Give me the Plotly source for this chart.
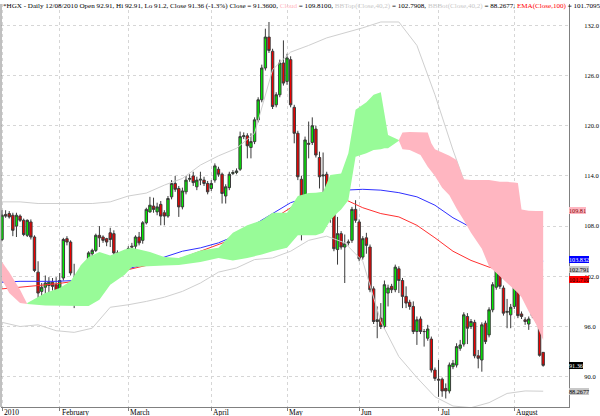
import plotly.graph_objects as go

# ---------------- data ----------------
open_ = [106.4,109.4,109.5,109.3,108.0,109.2,108.7,106.9,108.5,106.7,
 102.5,100.2,100.7,100.9,101.3,101.0,100.2,101.8,106.5,106.1,
 101.6,101.0,102.1,102.9,102.8,104.7,105.1,106.9,106.7,106.5,
 107.2,107.1,104.8,104.5,104.4,104.2,105.6,105.6,106.7,106.3,
 108.4,109.7,110.4,109.7,110.6,109.6,109.2,111.5,113.1,112.5,
 110.3,112.1,113.6,114.0,112.7,113.5,113.5,113.1,112.5,113.5,
 114.8,114.2,111.6,112.6,114.3,114.4,114.8,118.7,118.8,117.4,
 118.1,120.7,123.1,126.9,130.6,128.9,122.5,123.7,127.5,125.3,
 127.9,122.2,119.1,113.6,109.5,117.9,118.0,119.6,116.2,114.0,
 114.2,112.0,110.5,105.2,107.1,105.5,106.0,106.3,110.0,108.5,
 104.3,106.6,105.5,100.5,96.6,97.0,96.0,100.0,100.8,100.4,
 102.9,101.5,99.6,98.9,98.4,95.4,96.9,95.4,94.6,94.5,
 90.8,89.7,89.7,88.6,88.3,91.2,91.4,93.4,93.9,97.2,
 96.0,96.5,92.5,92.0,96.4,95.0,98.0,100.7,103.4,100.6,
 97.7,97.4,98.4,101.0,97.5,96.8,96.3,97.3,99.0,96.5,
 92.91]
high = [109.9,109.9,109.8,109.6,109.6,109.4,108.9,108.8,108.8,106.9,
 103.8,101.2,102.1,101.9,101.8,101.9,102.4,106.6,106.8,106.3,
 103.5,102.4,103.3,103.5,105.0,105.3,107.1,108.0,106.9,106.6,
 107.8,107.5,105.1,104.8,105.1,105.6,106.0,106.9,107.3,108.6,
 110.2,111.5,111.4,110.8,111.0,109.9,111.6,113.5,114.0,112.8,
 112.6,114.0,114.2,114.5,113.9,114.5,113.9,113.4,113.5,115.5,
 115.1,114.4,113.0,114.5,114.7,114.9,119.3,119.2,119.1,119.1,
 121.0,123.4,127.3,131.6,132.4,129.2,124.0,127.9,130.2,128.6,
 128.3,122.5,119.4,114.0,118.7,120.5,121.0,120.0,116.9,116.8,
 114.5,112.3,110.8,109.1,107.4,107.0,106.4,110.3,111.1,108.8,
 106.8,107.2,105.8,100.8,98.4,98.8,101.5,101.0,101.1,103.4,
 103.2,101.8,100.8,99.2,99.0,97.2,97.2,95.7,96.2,94.8,
 91.1,92.0,89.9,89.2,91.7,92.0,94.0,94.4,97.7,97.6,
 96.9,96.8,93.2,96.5,96.7,98.3,101.3,103.7,103.9,100.9,
 99.3,98.7,102.0,101.3,97.8,97.1,97.2,99.5,99.3,96.8,
 92.91]
low = [106.2,109.0,108.9,106.8,106.7,108.5,106.8,106.7,106.4,102.5,
 99.0,99.4,99.5,98.8,100.3,99.5,99.5,101.5,105.7,102.1,
 98.2,100.5,101.4,100.4,102.5,104.3,104.9,105.5,106.0,105.6,
 105.5,103.6,102.8,103.6,102.8,103.7,105.1,105.2,105.7,105.9,
 108.2,109.6,109.6,109.3,108.1,108.1,109.0,111.2,112.1,109.1,
 110.0,111.8,113.3,112.8,112.3,112.9,112.8,111.8,112.2,113.2,
 113.9,110.7,110.7,112.3,114.1,114.2,114.6,118.4,116.1,116.1,
 117.8,120.4,122.8,126.6,128.7,122.0,122.2,123.4,124.8,124.9,
 122.2,117.9,113.5,106.3,108.5,116.1,117.7,116.2,112.5,110.1,
 111.8,108.4,105.0,103.4,105.2,101.2,105.7,106.0,108.4,103.8,
 104.0,104.7,100.1,96.3,94.6,95.7,95.7,98.4,100.0,100.1,
 100.0,98.2,98.2,98.0,95.1,93.8,95.1,93.6,94.3,90.5,
 89.5,87.6,87.6,87.4,88.0,90.9,91.1,93.1,93.6,93.9,
 95.7,92.2,91.0,90.6,93.9,94.7,97.7,100.4,100.5,97.3,
 95.8,95.8,98.1,97.0,96.9,96.2,95.6,97.0,96.5,92.4,
 91.2]
close = [109.3,109.2,109.1,107.5,109.3,108.7,107.0,108.7,106.7,102.7,
 100.0,100.7,101.2,101.3,100.8,100.2,101.5,106.4,106.1,102.4,
 100.9,101.9,102.9,102.7,104.8,105.1,106.9,106.6,106.3,106.1,
 106.4,104.8,104.3,104.2,103.9,105.3,105.5,106.7,106.0,108.4,
 110.0,110.5,110.0,110.3,109.2,109.2,111.3,113.1,112.4,110.3,
 112.2,113.5,113.7,113.2,113.5,113.6,113.1,112.1,113.1,115.2,
 114.2,111.9,112.7,114.2,114.4,114.6,118.7,118.8,117.6,118.1,
 120.7,123.1,126.9,130.6,129.0,122.3,123.7,127.5,125.1,128.1,
 122.5,119.1,113.9,109.7,118.3,117.8,120.0,116.5,113.9,114.1,
 112.2,110.5,105.3,107.1,105.5,105.9,106.1,110.0,108.7,104.1,
 106.5,105.7,100.4,96.6,96.8,96.0,101.0,100.6,100.4,103.1,
 101.5,99.6,98.8,98.4,95.4,96.8,95.4,95.4,95.7,90.8,
 89.8,89.6,88.3,88.3,91.4,91.6,93.6,93.8,97.4,95.8,
 96.6,92.5,92.2,96.2,94.2,98.0,101.0,103.4,100.8,97.6,
 97.8,98.3,101.4,97.3,97.2,96.6,96.9,99.2,96.8,92.56,
 91.36]
bar_index = list(range(len(close)))

month_ticks = [0, 16, 35, 58, 79, 99, 121, 142]
month_labels = ["2010", "February", "March", "April", "May", "Jun", "Jul", "August"]
price_ticks = [90, 96, 102, 108, 114, 120, 126, 132]

line_index = list(range(0, 151, 5))
bb_top = [110.9,110.9,110.7,110.7,110.7,110.7,110.9,111.6,111.95,112.9,113.7,115.3,116.4,117.3,119.1,
          126.7,128.8,129.6,130.5,131.1,131.7,132.4,132.4,129.6,123.7,117.1,111.1,107.3,105.1,104.0,102.7908]
bb_bot = [96.5,96.0,96.2,95.5,95.3,95.8,98.3,98.6,99.0,99.5,100.2,101.2,102.5,103.0,104.0,
          104.2,105.0,106.3,106.8,106.0,103.8,96.6,92.4,89.9,87.6,86.5,86.3,86.9,88.0,88.3,88.2677]
ema100 = [100.5,100.7,100.9,101.1,101.4,101.8,102.3,102.8,103.3,103.8,104.2,105.0,105.8,106.6,107.6,
          108.8,110.2,111.0,111.3,111.2,110.2,109.5,109.1,108.1,106.6,105.0,103.9,103.1,102.5,102.1,101.7095]
ma100 = [101.3,101.4,101.4,101.4,101.5,101.8,102.3,102.9,103.5,104.3,105.0,105.4,106.0,106.9,108.2,
         109.6,110.8,111.5,112.0,112.3,112.4,112.3,112.0,111.5,110.5,109.0,107.8,106.7,105.6,104.7,103.832]

# Ichimoku cloud boundaries (upper / lower edge) for the three coloured stretches
cloud1_index = [0, 2, 5, 7]
cloud1_top = [103.7, 102.5, 100.4, 98.8]
cloud1_bot = [101.6, 100.0, 98.8, 98.7]

cloud2_index = [7, 12, 16, 19, 22, 24, 27, 30, 34, 36, 41, 45, 49, 55, 60, 64, 68, 72, 75, 79,
                82, 85, 87, 89, 91, 93, 94, 96, 98, 101, 103, 105, 106, 107, 110]
cloud2_top = [98.8, 100.0, 100.6, 101.4, 103.4, 104.3, 104.9, 104.5, 105.2, 105.4, 104.9, 104.3, 104.2,
              105.1, 105.4, 107.2, 108.1, 108.7, 109.6, 109.6, 111.6, 111.95, 112.0, 112.1, 114.1, 114.2,
              114.3, 116.7, 121.9, 122.8, 123.7, 124.0, 121.5, 118.9, 118.3]
cloud2_bot = [98.7, 98.5, 98.45, 98.45, 98.45, 98.45, 99.2, 101.0, 102.2, 103.1, 103.2, 103.3, 103.35,
              103.7, 104.2, 103.9, 104.2, 104.6, 105.0, 105.4, 106.9, 106.9, 106.9, 107.2, 108.7, 109.6,
              110.0, 111.1, 116.3, 116.7, 117.1, 117.2, 117.3, 117.3, 118.2]

cloud3_index = [110, 111, 113, 116, 118, 119, 120, 122, 124, 126, 128, 130, 133, 135, 138, 140, 142,
                143, 144, 146, 148, 150]
cloud3_top = [118.3, 119.2, 119.25, 119.25, 119.2, 117.9, 117.2, 116.8, 116.4, 115.9, 113.6, 113.5, 113.5,
              113.5, 113.3, 113.3, 113.2, 113.15, 110.0, 109.85, 109.81, 109.81]
cloud3_bot = [118.2, 117.2, 117.1, 116.5, 115.1, 114.6, 114.0, 112.6, 111.7, 110.1, 108.7, 107.2, 105.3,
              103.2, 101.9, 101.2, 100.4, 100.0, 99.5, 97.8, 96.3, 94.4]

GREEN_CLOUD = "#98fb98"
PINK_CLOUD = "#ffb6c1"
FONT = "Liberation Serif"

fig = go.Figure()

# indicator lines (drawn below the cloud)
fig.add_trace(go.Scatter(x=line_index, y=bb_top, mode="lines", line=dict(color="#cfcfcf", width=1), hoverinfo="skip"))
fig.add_trace(go.Scatter(x=line_index, y=bb_bot, mode="lines", line=dict(color="#cfcfcf", width=1), hoverinfo="skip"))
fig.add_trace(go.Scatter(x=line_index, y=ma100, mode="lines", line=dict(color="#3030ff", width=1), hoverinfo="skip"))
fig.add_trace(go.Scatter(x=line_index, y=ema100, mode="lines", line=dict(color="#ff3030", width=1), hoverinfo="skip"))

# cloud
for ix, top, bot, col in [(cloud1_index, cloud1_top, cloud1_bot, PINK_CLOUD),
                          (cloud2_index, cloud2_top, cloud2_bot, GREEN_CLOUD),
                          (cloud3_index, cloud3_top, cloud3_bot, PINK_CLOUD)]:
    fig.add_trace(go.Scatter(x=ix + ix[::-1], y=top + bot[::-1], mode="lines", fill="toself",
                             fillcolor=col, line=dict(width=0, color=col), hoverinfo="skip"))

# candles
fig.add_trace(go.Candlestick(
    x=bar_index, open=open_, high=high, low=low, close=close,
    increasing=dict(line=dict(color="#3a3a3a", width=1), fillcolor="#00ee00"),
    decreasing=dict(line=dict(color="#3a3a3a", width=1), fillcolor="#ee0000"),
    whiskerwidth=0, hoverinfo="skip"))

# month labels (left-aligned at their tick)
annotations = []
for t, lab in zip(month_ticks, month_labels):
    annotations.append(dict(x=t, y=0, xref="x", yref="paper", text=lab, showarrow=False,
                            xanchor="left", yanchor="top", xshift=0, yshift=1,
                            font=dict(family=FONT, size=7.5, color="#000000")))

# header line
last = len(close) - 1
chg = (close[last] - close[last - 1]) / close[last - 1] * 100
title = ("*HGX - Daily 12/08/2010 Open %.2f, Hi %.2f, Lo %.1f, Close %.2f (%.1f%%) Close = %.4f, "
         "<span style='color:%s'>Cloud</span> = %.4f, "
         "<span style='color:#c8c8c8'>BBTop(Close,40,2)</span> = %.4f, "
         "<span style='color:#c8c8c8'>BBBot(Close,40,2)</span> = %.4f, "
         "<span style='color:#ff0000'>EMA(Close,100)</span> = %.4f, "
         "<span style='color:#0000ff'>MA(Close,100)</span> = %.4f") % (
    open_[last], high[last], low[last], close[last], chg, close[last], PINK_CLOUD, cloud3_top[-1],
    bb_top[-1], bb_bot[-1], ema100[-1], ma100[-1])
annotations.append(dict(x=0, y=1, xref="paper", yref="paper", text=title, showarrow=False,
                        xanchor="left", yanchor="top", yshift=4, align="left",
                        font=dict(family=FONT, size=7.1, color="#000000")))

# value boxes at the right edge (small vertical offsets keep the stacked ones apart)
boxes = [("%.2f" % cloud3_top[-1], cloud3_top[-1], PINK_CLOUD, "#800000", 0),
         ("%.3f" % ma100[-1], ma100[-1], "#0000ff", "#ffffff", 1.0),
         ("%.3f" % bb_top[-1], bb_top[-1], "#c8c8c8", "#000000", 0.6),
         ("%.3f" % ema100[-1], ema100[-1], "#ff0000", "#000000", -0.6),
         ("%.2f" % close[last], close[last], "#000000", "#ffffff", 0),
         ("%.4f" % bb_bot[-1], bb_bot[-1], "#c8c8c8", "#000000", 0)]
for txt, val, bg, fg, ys in boxes:
    annotations.append(dict(x=1, y=val, xref="paper", yref="y", text=txt, showarrow=False,
                            xanchor="left", yanchor="middle", xshift=0, yshift=ys, bgcolor=bg,
                            borderpad=0, borderwidth=0,
                            font=dict(family=FONT, size=6.2, color=fg)))

fig.update_layout(
    width=600, height=416, autosize=False,
    margin=dict(l=1, r=28, t=4, b=9),
    paper_bgcolor="#ffffff", plot_bgcolor="#ffffff",
    showlegend=False, hovermode=False,
    boxgap=0.05,
    annotations=annotations,
    shapes=[dict(type="line", xref="paper", yref="paper", x0=0, x1=0, y0=0, y1=1,
                 line=dict(color="#808080", width=1))],
    xaxis=dict(range=[-0.28, 157.16], tickvals=month_ticks, showticklabels=False,
               ticks="outside", ticklen=3, tickcolor="#808080",
               showgrid=True, gridcolor="#d6d6d6", griddash="dot", gridwidth=1,
               showline=True, linecolor="#808080", linewidth=1, zeroline=False,
               rangeslider=dict(visible=False), fixedrange=True),
    yaxis=dict(side="right", range=[86.38, 134.55], tickvals=price_ticks,
               ticktext=["%.1f" % v for v in price_ticks], ticks="",
               ticklabelstandoff=13,
               tickfont=dict(family=FONT, size=6.5, color="#000000"),
               showgrid=True, gridcolor="#d6d6d6", griddash="dot", gridwidth=1,
               showline=True, linecolor="#808080", linewidth=1, zeroline=False, fixedrange=True),
)

fig.write_html("out.html", config={"displayModeBar": False, "staticPlot": True},
               post_script="document.body.style.margin='0';")
